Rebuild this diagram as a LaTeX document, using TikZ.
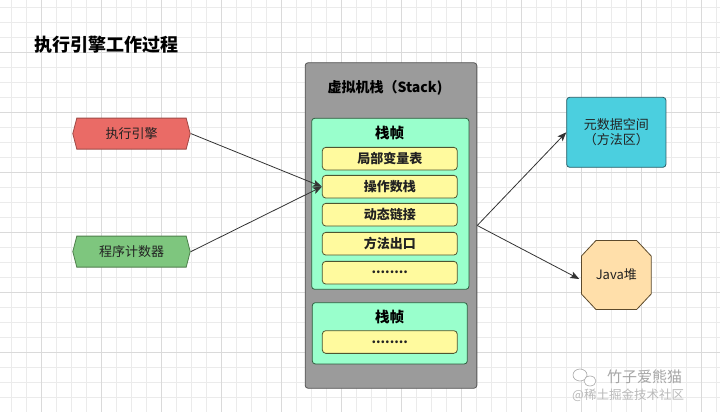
\documentclass[tikz,border=0pt]{standalone}
\usepackage{fontspec}
\setmainfont{Noto Sans CJK SC}
\usetikzlibrary{arrows.meta}
\definecolor{gridminor}{HTML}{EBEBEB}
\definecolor{gridmajor}{HTML}{DADADA}
\definecolor{redfill}{HTML}{EA6B66}
\definecolor{redline}{HTML}{9E4A46}
\definecolor{greenfill}{HTML}{7EC67E}
\definecolor{greenline}{HTML}{4F7F4C}
\definecolor{stackfill}{HTML}{9B9B9B}
\definecolor{stackline}{HTML}{555555}
\definecolor{framefill}{HTML}{99FFCC}
\definecolor{frameline}{HTML}{2F5F3F}
\definecolor{yellowfill}{HTML}{FFFA9E}
\definecolor{yellowline}{HTML}{4E5530}
\definecolor{cyanfill}{HTML}{4BCFDF}
\definecolor{cyanline}{HTML}{2B5F68}
\definecolor{orangefill}{HTML}{FFDFAA}
\definecolor{orangeline}{HTML}{5C4A2C}
\definecolor{textc}{HTML}{222222}
\definecolor{arrowc}{HTML}{333333}
\tikzset{
  f13/.style={font=\fontsize{13}{15}\selectfont},
  hexbox/.style 2 args={minimum width=118.4, minimum height=32, inner sep=0, f13, text=textc,
    path picture={\draw[fill=#1, draw=#2, line width=0.8pt]
      ([xshift=0.5pt]path picture bounding box.west) --
      ([xshift=4.5pt,yshift=-0.5pt]path picture bounding box.north west) --
      ([xshift=-4.5pt,yshift=-0.5pt]path picture bounding box.north east) --
      ([xshift=-0.5pt]path picture bounding box.east) --
      ([xshift=-4.5pt,yshift=0.5pt]path picture bounding box.south east) --
      ([xshift=4.5pt,yshift=0.5pt]path picture bounding box.south west) -- cycle;}},
  octbox/.style 2 args={minimum width=70.7, minimum height=70, inner sep=0, f13, text=textc,
    path picture={\draw[fill=#1, draw=#2, line width=0.8pt]
      ([xshift=15pt,yshift=-0.5pt]path picture bounding box.north west) --
      ([xshift=-15pt,yshift=-0.5pt]path picture bounding box.north east) --
      ([xshift=-0.5pt,yshift=-16pt]path picture bounding box.north east) --
      ([xshift=-0.5pt,yshift=16pt]path picture bounding box.south east) --
      ([xshift=-15pt,yshift=0.5pt]path picture bounding box.south east) --
      ([xshift=15pt,yshift=0.5pt]path picture bounding box.south west) --
      ([xshift=0.5pt,yshift=16pt]path picture bounding box.south west) --
      ([xshift=0.5pt,yshift=-16pt]path picture bounding box.north west) -- cycle;}},
  stackbox/.style={draw=stackline, fill=stackfill, rounded corners=3pt, line width=0.8pt},
  framebox/.style={draw=frameline, fill=framefill, rounded corners=3pt, line width=0.8pt},
  itembox/.style={draw=yellowline, fill=yellowfill, rounded corners=3.5pt, line width=0.8pt,
    minimum width=135, minimum height=22.7, inner sep=0, f13, font=\fontsize{13}{15}\selectfont\bfseries, text=textc},
  metabox/.style={draw=cyanline, fill=cyanfill, rounded corners=3pt, line width=0.8pt,
    minimum width=99.3, minimum height=70, inner sep=0, align=center, f13, text=textc},
  conn/.style={draw=arrowc, line width=0.8pt, -{Stealth[length=9pt,width=7pt,inset=2pt]}},
  boldlabel/.style={font=\fontsize{14.5}{16}\selectfont\bfseries, text=black},
}
\begin{document}
\begin{tikzpicture}[x=1pt,y=-1pt]
\useasboundingbox (0,0) rectangle (720,412);
\fill[white] (0,0) rectangle (720,412);
% grid
\foreach \x in {11.7,26.7,...,716.7} \draw[gridminor, line width=0.6pt] (\x,0) -- (\x,412);
\foreach \y in {7.7,22.7,...,411} \draw[gridminor, line width=0.6pt] (0,\y) -- (720,\y);
\foreach \x in {41.7,101.7,...,701.7} \draw[gridmajor, line width=0.7pt] (\x,0) -- (\x,412);
\foreach \y in {52.7,112.7,...,411} \draw[gridmajor, line width=0.7pt] (0,\y) -- (720,\y);

% title
\node[anchor=west, font=\fontsize{18}{20}\selectfont\bfseries, text=black, inner sep=0] (title) at (34,45) {执行引擎工作过程};

% left hexagons
\node[hexbox={redfill}{redline}] (exec) at (131.5,133.6) {执行引擎};
\node[hexbox={greenfill}{greenline}] (pc) at (131.5,251.6) {程序计数器};

% stack
\node[stackbox, minimum width=171.7, minimum height=325.6] (stack) at (391,225.5) {};
\node[boldlabel, font=\fontsize{14}{16}\selectfont\bfseries] (stacktitle) at (385,88.3) {虚拟机栈（Stack)};

\node[framebox, minimum width=157.3, minimum height=171] (frame1) at (390.3,203.8) {};
\node[boldlabel] (frame1title) at (389.5,132.7) {栈帧};
\node[itembox] (local) at (389.8,158.7) {局部变量表};
\node[itembox] (op) at (389.8,186.7) {操作数栈};
\node[itembox] (dyn) at (389.8,214.7) {动态链接};
\node[itembox] (ret) at (389.8,243.7) {方法出口};
\node[itembox] (more1) at (389.8,272.7) {........};

\node[framebox, minimum width=155, minimum height=61.3] (frame2) at (389.8,333.3) {};
\node[boldlabel] (frame2title) at (389.5,317.3) {栈帧};
\node[itembox] (more2) at (389.8,342) {........};

% right
\node[metabox] (meta) at (616.3,132.3) {元数据空间\\（方法区）};
\node[octbox={orangefill}{orangeline}] (heap) at (616.3,275) {Java堆};

% connectors
\draw[conn] (exec.east) -- (op.west);
\draw[conn] (pc.east) -- (op.west);
\draw[conn] (stack.east) -- (meta.west);
\draw[conn] (stack.east) -- ([xshift=-1.5pt,yshift=-4pt]heap.west);

% watermark
\begin{scope}[draw=gray!70, line width=0.6pt]
\draw[fill=white] (580,375) ellipse (7 and 6);
\draw[fill=white] (590,381) ellipse (6 and 5);
\end{scope}
\node[anchor=west, inner sep=0, font=\fontsize{15}{16}\selectfont, text=gray!70] (wm1) at (607,377) {竹子爱熊猫};
\node[anchor=west, inner sep=0, font=\fontsize{12.5}{14}\selectfont, text=gray!55] (wm2) at (572,395) {@稀土掘金技术社区};
\end{tikzpicture}
\end{document}
